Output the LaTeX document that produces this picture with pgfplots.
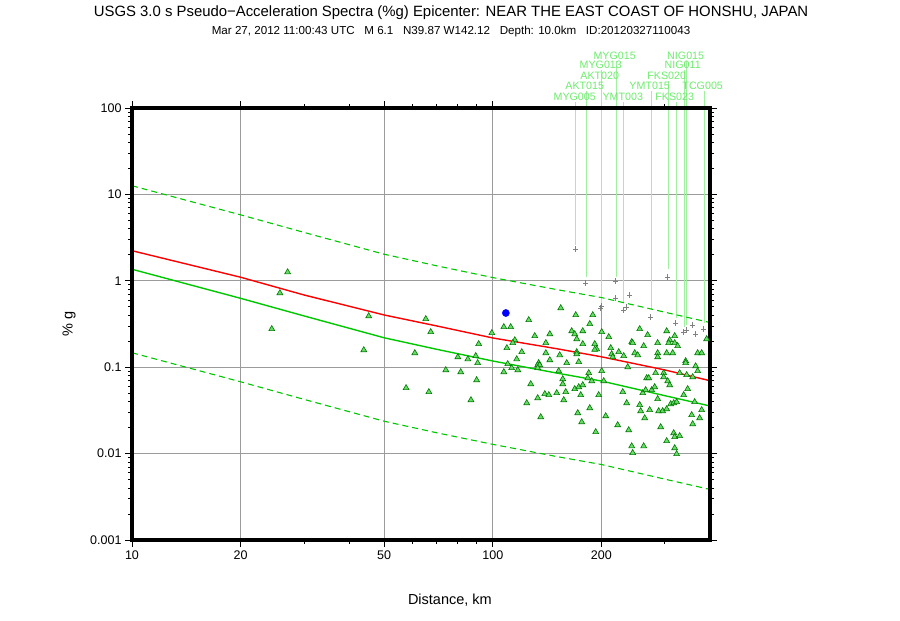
\documentclass[border=0pt]{standalone}
\usepackage{fontspec}
\setmainfont{Liberation Sans}
\usepackage{pgfplots}
\usepackage{pgfplotstable}
\pgfplotsset{compat=1.18}
\definecolor{trifill}{RGB}{102,221,102}
\definecolor{triedge}{RGB}{0,120,0}
\definecolor{lgreen}{RGB}{0,200,0}
\definecolor{stxt}{RGB}{110,235,110}
\definecolor{sline}{RGB}{160,240,160}
\definecolor{gridgray}{RGB}{155,155,155}
\pgfplotstableread{
d v
27.0 1.26
25.7 0.722
24.4 0.277
45.3 0.391
43.9 0.158
65.2 0.362
67.3 0.256
60.8 0.146
57.5 0.0575
66.5 0.0517
74.1 0.0928
80.0 0.131
81.5 0.088
85.3 0.124
89.7 0.135
91.4 0.186
90.8 0.112
90.2 0.0711
87.0 0.0417
99.4 0.249
154.3 0.484
169.8 0.402
189.3 0.402
125.8 0.352
107.3 0.292
112.1 0.292
130.7 0.230
143.9 0.242
165.5 0.262
168.7 0.242
170.9 0.212
177.6 0.262
185.7 0.317
200.4 0.256
209.6 0.224
255.4 0.277
268.7 0.236
303.4 0.262
319.3 0.230
309.3 0.206
319.3 0.191
325.4 0.176
391.6 0.212
115.1 0.206
113.6 0.191
109.4 0.167
120.3 0.150
140.3 0.191
140.3 0.146
153.3 0.138
170.9 0.150
170.9 0.142
177.6 0.186
191.7 0.186
194.1 0.162
191.7 0.160
212.3 0.167
213.6 0.142
215.0 0.131
223.4 0.150
230.6 0.135
242.7 0.196
244.2 0.191
262.0 0.176
247.4 0.146
252.2 0.138
286.4 0.191
307.3 0.191
286.4 0.146
286.4 0.131
303.4 0.146
315.3 0.146
369.7 0.146
379.3 0.146
116.5 0.124
110.0 0.109
107.3 0.088
112.8 0.098
117.3 0.0928
134.0 0.112
133.2 0.106
134.9 0.106
133.2 0.098
143.9 0.121
160.3 0.112
173.1 0.115
152.3 0.0904
184.5 0.0857
183.4 0.075
188.1 0.0692
200.4 0.0904
203.0 0.0692
236.6 0.1005
282.7 0.0857
297.6 0.0857
297.6 0.077
305.4 0.0692
309.3 0.0622
267.0 0.075
270.5 0.075
342.5 0.118
342.5 0.112
329.6 0.0857
344.7 0.0813
358.2 0.077
365.0 0.103
369.7 0.0904
156.3 0.073
156.3 0.0639
127.4 0.0639
159.3 0.0517
168.7 0.056
173.1 0.059
177.6 0.0622
139.4 0.049
143.0 0.0477
150.4 0.0503
175.3 0.0477
196.6 0.0477
229.2 0.0517
260.4 0.0503
265.3 0.0545
275.7 0.0545
281.0 0.059
286.4 0.0429
346.9 0.056
338.2 0.0477
133.2 0.044
157.3 0.0417
124.2 0.0385
185.7 0.0337
235.0 0.0385
255.4 0.0366
257.0 0.0311
272.2 0.032
288.3 0.0311
295.7 0.0311
303.4 0.0328
311.3 0.0375
317.3 0.0385
323.3 0.0396
362.7 0.0396
379.3 0.032
135.8 0.0265
172.0 0.0295
263.7 0.0258
355.9 0.028
374.5 0.0258
176.4 0.0232
205.6 0.0272
221.9 0.0214
238.1 0.01875
292.0 0.0203
358.2 0.022
192.9 0.0178
317.3 0.0173
319.3 0.0156
329.6 0.016
303.4 0.014
242.7 0.0122
262.0 0.0122
319.3 0.0116
244.2 0.0102
323.3 0.0099
}\stations
\pgfplotstableread{
d v
169.8 2.334
181.0 0.944
219.1 0.995
219.1 0.632
239.6 0.685
235.0 0.497
230.6 0.459
200.4 0.510
199.2 0.484
305.4 1.107
273.9 0.381
321.2 0.325
358.2 0.308
338.2 0.256
344.7 0.270
365.0 0.242
384.2 0.277
}\flagged
\pgfplotstableread{
d med up lo
10 1.36 12.6 0.147
20 0.627 5.80 0.0678
30 0.392 3.63 0.0424
50 0.219 2.03 0.0237
70 0.161 1.49 0.0174
100 0.118 1.09 0.0128
150 0.0857 0.793 0.00926
200 0.0692 0.640 0.00748
300 0.0468 0.433 0.00506
400 0.0356 0.329 0.00385
}\gmpe
\pgfplotstableread{
d v
10 2.23
20 1.10
30 0.685
50 0.402
70 0.300
100 0.218
150 0.164
200 0.132
300 0.0929
400 0.0698
}\redline
\begin{document}
\begin{tikzpicture}
\begin{axis}[
  scale only axis, width=578pt, height=432pt,
  xmode=log, ymode=log,
  xmin=10, xmax=400, ymin=0.001, ymax=100,
  xtick={10,20,50,100,200}, xticklabels={10,20,50,100,200},
  minor xtick={30,40,60,70,80,90,300},
  ytick={0.001,0.01,0.1,1,10,100}, yticklabels={0.001,0.01,0.1,1,10,100},
  minor ytick={0.002,0.003,0.004,0.005,0.006,0.007,0.008,0.009,0.02,0.03,0.04,0.05,0.06,0.07,0.08,0.09,0.2,0.3,0.4,0.5,0.6,0.7,0.8,0.9,2,3,4,5,6,7,8,9,20,30,40,50,60,70,80,90},
  grid=major, major grid style={draw=gridgray, line width=0.9pt},
  tick align=outside, major tick length=7pt, minor tick length=4pt,
  tick style={black, line width=0.9pt},
  ticklabel style={font=\fontsize{12.5}{14}\selectfont},
  clip=false,
]
\path (axis description cs:-0.22837,-0.18519) rectangle (axis description cs:1.32872,1.25);
% station label lines
\addplot[sline, line width=0.9pt] coordinates {(169.5,117) (169.5,2.6)};
\addplot[sline, line width=0.9pt] coordinates {(181.8,157) (181.8,1.106)};
\addplot[sline, line width=0.9pt] coordinates {(200.4,275) (200.4,0.525)};
\addplot[sline, line width=0.9pt] coordinates {(200.4,205) (200.4,0.525)};
\addplot[sline, line width=0.9pt] coordinates {(220.1,350) (220.1,1.106)};
\addplot[sline, line width=0.9pt] coordinates {(230.6,117) (230.6,0.569)};
\addplot[sline, line width=0.9pt] coordinates {(275.2,157) (275.2,0.459)};
\addplot[sline, line width=0.9pt] coordinates {(305.9,205) (305.9,1.37)};
\addplot[sline, line width=0.9pt] coordinates {(322.8,117) (322.8,0.371)};
\addplot[sline, line width=0.9pt] coordinates {(338.8,275) (338.8,0.292)};
\addplot[sline, line width=0.9pt] coordinates {(344.2,350) (344.2,0.307)};
\addplot[sline, line width=0.9pt] coordinates {(385.0,157) (385.0,0.325)};
% GMPE curves
\addplot[lgreen, line width=1.1pt, dash pattern=on 6pt off 4pt] table[x=d, y=up] {\gmpe};
\addplot[lgreen, line width=1.1pt, dash pattern=on 6pt off 4pt] table[x=d, y=lo] {\gmpe};
\addplot[lgreen, line width=1.4pt] table[x=d, y=med] {\gmpe};
\addplot[red, line width=1.4pt] table[x=d, y=v] {\redline};
% data
\addplot[only marks, mark=triangle*, mark size=3.4pt, mark options={fill=trifill, draw=triedge, line width=0.6pt}] table[x=d, y=v] {\stations};
\addplot[only marks, mark=+, mark size=2.6pt, mark options={draw=gray, line width=0.8pt}] table[x=d, y=v] {\flagged};
\addplot[only marks, mark=*, mark size=3.6pt, mark options={fill=blue, draw=blue}] coordinates {(108.7,0.424)};
% heavy frame
\draw[black, line width=3.4pt] (rel axis cs:0,0) rectangle (rel axis cs:1,1);
% station labels
\begin{scope}[every node/.style={font=\fontsize{10.7}{12}\selectfont, text=stxt, inner sep=0pt}]
\node at (axis cs:217.7,403) {MYG015};
\node at (axis cs:342.5,403) {NIG015};
\node at (axis cs:199.2,312) {MYG013};
\node at (axis cs:336.0,312) {NIG011};
\node at (axis cs:197.9,234) {AKT020};
\node at (axis cs:303.4,234) {FKS020};
\node at (axis cs:179.8,180) {AKT015};
\node at (axis cs:272.2,180) {YMT015};
\node at (axis cs:381.8,180) {TCG005};
\node at (axis cs:168.7,135) {MYG005};
\node at (axis cs:229.2,135) {YMT003};
\node at (axis cs:319.3,135) {FKS023};
\end{scope}
% titles and axis labels
\node[font=\fontsize{14.9}{17}\selectfont] at (axis description cs:0.552,1.2199) {USGS 3.0 s Pseudo−Acceleration Spectra (\%g) Epicenter: NEAR THE EAST COAST OF HONSHU, JAPAN};
\node[font=\fontsize{11.6}{13}\selectfont] at (axis description cs:0.552,1.178) {Mar 27, 2012 11:00:43 UTC\ \ \ M 6.1\ \ \ N39.87 W142.12\ \ \ Depth: 10.0km\ \ \ ID:20120327110043};
\node[font=\fontsize{14.5}{17}\selectfont] at (axis description cs:0.550,-0.139) {Distance, km};
\node[font=\fontsize{14.5}{17}\selectfont, rotate=90] at (axis description cs:-0.109,0.5) {\% g};
\end{axis}
\end{tikzpicture}
\end{document}
